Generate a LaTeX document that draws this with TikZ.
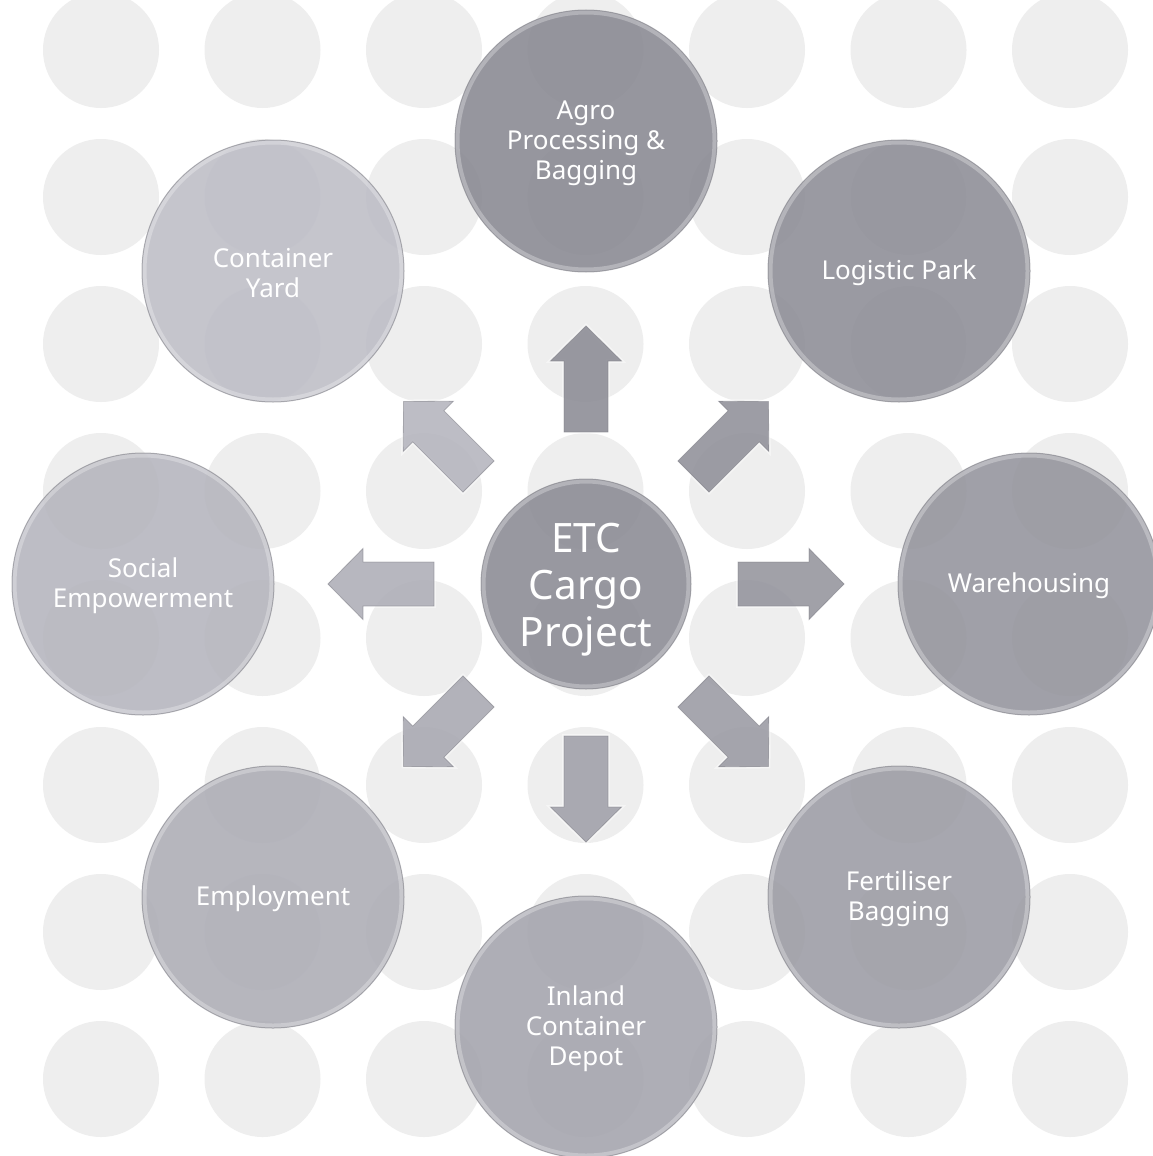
\documentclass[tikz,border=0pt]{standalone}
\usepackage{fontspec}
\setmainfont{Noto Sans}
\usetikzlibrary{calc}
\definecolor{bgdot}{HTML}{EEEEEE}
\definecolor{rim}{RGB}{120,120,128}
% circle fills (used with fill opacity 0.88)
\definecolor{cHub}{RGB}{138,138,147}
\definecolor{cAgro}{RGB}{136,136,145}
\definecolor{cLog}{RGB}{141,141,150}
\definecolor{cWare}{RGB}{147,147,156}
\definecolor{cFert}{RGB}{155,155,164}
\definecolor{cInl}{RGB}{163,163,172}
\definecolor{cEmp}{RGB}{172,172,181}
\definecolor{cSoc}{RGB}{180,180,189}
\definecolor{cCont}{RGB}{189,189,198}
% arrow fills
\definecolor{aN}{RGB}{140,140,149}
\definecolor{aNE}{RGB}{144,144,153}
\definecolor{aE}{RGB}{148,148,157}
\definecolor{aSE}{RGB}{154,154,163}
\definecolor{aS}{RGB}{160,160,169}
\definecolor{aSW}{RGB}{168,168,177}
\definecolor{aW}{RGB}{174,174,183}
\definecolor{aNW}{RGB}{181,181,190}
\tikzset{
  bevel/.style={path picture={
      \draw[white, opacity=0.28, line width=9pt]
        (path picture bounding box.center) circle (#1);}},
  sat/.style={circle, minimum size=262pt, inner sep=0pt,
    fill opacity=0.88, draw=rim, draw opacity=0.55,
    line width=1pt, bevel=131pt},
  hub/.style={sat, minimum size=210pt, bevel=105pt},
  lab/.style={text=white, align=center, inner sep=0pt,
    font=\fontsize{26}{30}\selectfont, yshift=-2pt},
  hublab/.style={lab, font=\fontsize{40.5}{47}\selectfont, yshift=-4pt},
  blockarrow/.style={fill opacity=0.88, draw=rim, draw opacity=0.5,
    line width=0.8pt, line join=miter,
    preaction={draw=white, draw opacity=0.45, line width=4pt}},
}
\newcommand\blockarr[3]{%
  \coordinate (t) at ($(#1)!152pt!(#2)$);
  \coordinate (p) at ($(#1)!258pt!(#2)$);
  \coordinate (h) at ($(t)!71pt!(p)$);
  \path[blockarrow, fill=#3]
    ($(t)!22pt!90:(p)$) -- ($(h)!22pt!90:(p)$) -- ($(h)!35.5pt!90:(p)$)
    -- (p) -- ($(h)!35.5pt!-90:(p)$) -- ($(h)!22pt!-90:(p)$)
    -- ($(t)!22pt!-90:(p)$) -- cycle;
}
\begin{document}
\begin{tikzpicture}[x=1pt,y=-1pt]
\useasboundingbox (0,0) rectangle (1153,1156);
\fill[white] (0,0) rectangle (1153,1156);
\foreach \i in {0,...,6}
  \foreach \j in {0,...,7}
    \fill[bgdot] (101+161.5*\i, 50+147*\j) circle (58pt);

\node[hub, fill=cHub, label={[hublab]center:ETC\\Cargo\\Project}] (etc) at (586,584) {};

\node[sat, fill=cAgro, label={[lab]center:Agro\\Processing \&\\Bagging}] (agro) at (586,141) {};
\node[sat, fill=cLog,  label={[lab]center:Logistic Park}] (logi) at (899,271) {};
\node[sat, fill=cWare, label={[lab]center:Warehousing}] (ware) at (1029,584) {};
\node[sat, fill=cFert, label={[lab]center:Fertiliser\\Bagging}] (fert) at (899,897) {};
\node[sat, fill=cInl,  label={[lab]center:Inland\\Container\\Depot}] (icd) at (586,1027) {};
\node[sat, fill=cEmp,  label={[lab]center:Employment}] (emp) at (273,897) {};
\node[sat, fill=cSoc,  label={[lab]center:Social\\Empowerment}] (soc) at (143,584) {};
\node[sat, fill=cCont, label={[lab]center:Container\\Yard}] (cont) at (273,271) {};

\blockarr{etc}{agro}{aN}
\blockarr{etc}{logi}{aNE}
\blockarr{etc}{ware}{aE}
\blockarr{etc}{fert}{aSE}
\blockarr{etc}{icd}{aS}
\blockarr{etc}{emp}{aSW}
\blockarr{etc}{soc}{aW}
\blockarr{etc}{cont}{aNW}
\end{tikzpicture}
\end{document}
